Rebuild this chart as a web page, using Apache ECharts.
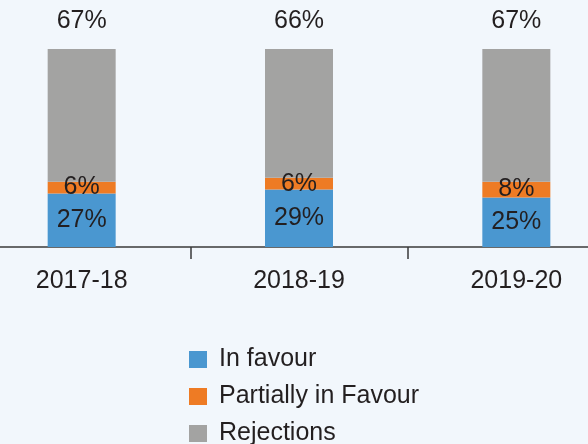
<!DOCTYPE html>
<html>
<head>
<meta charset="utf-8">
<script src="https://cdn.jsdelivr.net/npm/echarts@6/dist/echarts.min.js"></script>
<style>
  html, body { margin: 0; padding: 0; background: #f2f7fc; }
  #chart { width: 588px; height: 444px; }
</style>
</head>
<body>
<div id="chart"></div>
<script>
var years = ['2017-18', '2018-19', '2019-20'];
var inFavour = [27, 29, 25];
var partially = [6, 6, 8];
var rejections = [67, 66, 67];

var myChart = echarts.init(document.getElementById('chart'));
var font = 'Liberation Sans, Arial, sans-serif';

function pct(p) {
    return p.value + '%';
}

var option = {
    backgroundColor: '#f2f7fc',
    animation: false,
    textStyle: { fontFamily: font },
    grid: {
        left: -27,
        right: -37,
        top: 49,
        bottom: 197,
        containLabel: false,
        outerBoundsMode: 'none'
    },
    legend: {
        orient: 'vertical',
        left: 189,
        top: 347,
        height: 140,
        padding: 0,
        itemWidth: 18,
        itemHeight: 17,
        itemGap: 12,
        icon: 'rect',
        textStyle: {
            fontSize: 25,
            lineHeight: 24,
            color: '#231f20',
            padding: [0, 0, 0, 7]
        },
        data: ['In favour', 'Partially in Favour', 'Rejections']
    },
    xAxis: {
        type: 'category',
        data: years,
        axisLine: { lineStyle: { color: '#3a3a3a', width: 1.5 } },
        axisTick: { show: true, interval: 0, length: 12, lineStyle: { color: '#3a3a3a', width: 1.5 } },
        axisLabel: { fontSize: 25, color: '#231f20', margin: 22 }
    },
    yAxis: {
        type: 'value',
        min: 0,
        max: 100,
        show: false,
        splitLine: { show: false }
    },
    series: [{
        name: 'In favour',
        type: 'bar',
        stack: 'all',
        barWidth: 68,
        itemStyle: { color: '#4a97d0' },
        label: { show: true, position: 'inside', formatter: pct, fontSize: 25, color: '#231f20' },
        data: inFavour
    }, {
        name: 'Partially in Favour',
        type: 'bar',
        stack: 'all',
        itemStyle: { color: '#ee7b24' },
        label: { show: true, position: 'inside', formatter: pct, fontSize: 25, color: '#231f20' },
        data: partially
    }, {
        name: 'Rejections',
        type: 'bar',
        stack: 'all',
        itemStyle: { color: '#a3a3a2' },
        label: { show: true, position: 'top', distance: 15, formatter: pct, fontSize: 25, color: '#231f20' },
        data: rejections
    }]
};

myChart.setOption(option);
</script>
</body>
</html>
